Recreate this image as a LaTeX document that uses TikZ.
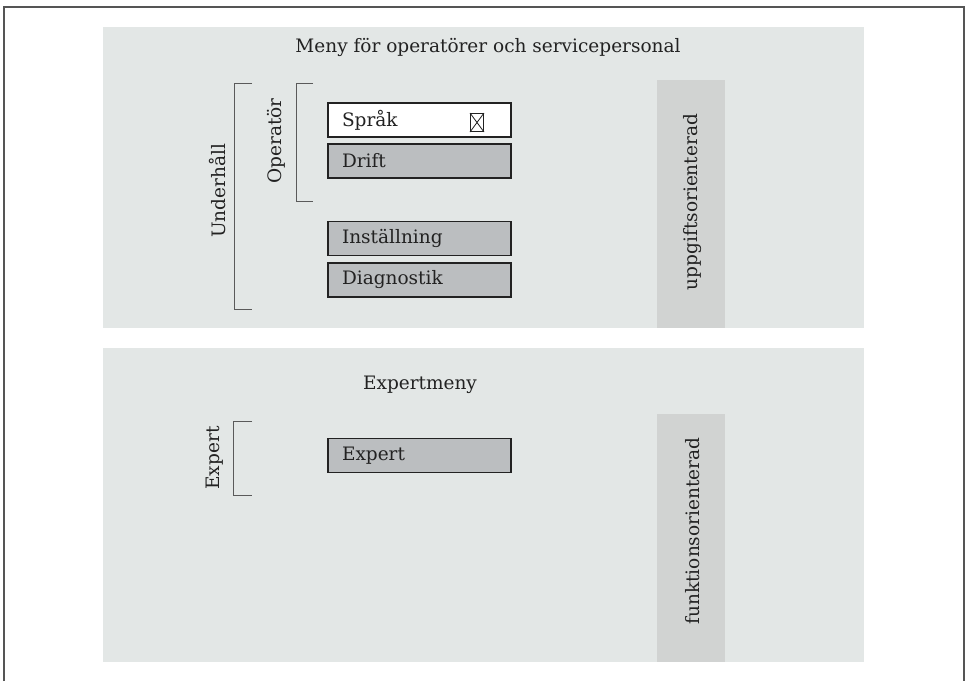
\documentclass[tikz,border=0pt]{standalone}
\usepackage{fontspec}
\setmainfont{DejaVu Serif}
\usetikzlibrary{positioning}
\definecolor{frame}{HTML}{555555}
\definecolor{panel}{HTML}{E3E7E6}
\definecolor{column}{HTML}{D1D3D2}
\definecolor{item}{HTML}{BBBEC0}
\definecolor{ink}{HTML}{222222}
\definecolor{brk}{HTML}{5A5A5A}

\begin{document}
\begin{tikzpicture}[x=1pt,y=-1pt,font=\fontsize{18.5}{22}\selectfont,
  menubox/.style={draw=ink,line width=1.2pt,fill=item,minimum height=34pt,text width=155pt,inner xsep=14pt,inner ysep=0pt,align=left,text=ink},
  sidelabel/.style={rotate=90,text=ink,inner sep=0pt},
  bracket/.style={draw=brk,line width=1pt}]
\useasboundingbox (0,0) rectangle (967,681);
% outer frame, open at the bottom
\draw[frame,line width=1.5pt] (4,681) -- (4,7) -- (964,7) -- (964,681);
% panels and columns
\node[fill=panel,minimum width=761pt,minimum height=301pt,inner sep=0pt] (top) at (483.5,177.5) {};
\node[fill=panel,minimum width=761pt,minimum height=314pt,inner sep=0pt] (bot) at (483.5,505) {};
\node[fill=column,minimum width=68pt,minimum height=248pt,inner sep=0pt] (colA) at (691,204) {};
\node[fill=column,minimum width=68pt,minimum height=248pt,inner sep=0pt] (colB) at (691,538) {};
\node[sidelabel] (uppg) at (693,202) {uppgiftsorienterad};
\node[sidelabel] (funk) at (693,531) {funktionsorienterad};
% titles
\node[text=ink] (ttop) at (488,47) {Meny för operatörer och servicepersonal};
\node[text=ink] (tbot) at (420,385) {Expertmeny};
% menu items
\node[menubox,fill=white] (sprak) at (419.5,120) {Språk};
\node[menubox] (drift) at (419.5,161) {Drift};
\node[menubox] (inst) at (419.5,238.5) {Inställning};
\node[menubox] (diag) at (419.5,280) {Diagnostik};
\node[menubox] (expm) at (419.5,455.5) {Expert};
% checkbox in the language item
\node[draw=ink,line width=1pt,minimum width=13pt,minimum height=18pt,inner sep=0pt] (chk) at (477,122.5) {};
\draw[ink,line width=0.8pt] (chk.north west) -- (chk.south east) (chk.north east) -- (chk.south west);
% brackets
\draw[bracket] (252,83) -- (234,83) -- (234,309) -- (252,309);
\draw[bracket] (313,83) -- (296,83) -- (296,201) -- (313,201);
\draw[bracket] (252,421) -- (233,421) -- (233,495) -- (252,495);
\node[sidelabel] (unh) at (218,191) {Underhåll};
\node[sidelabel] (oper) at (276,141) {Operatör};
\node[sidelabel] (expl) at (215,458) {Expert};
\end{tikzpicture}
\end{document}
